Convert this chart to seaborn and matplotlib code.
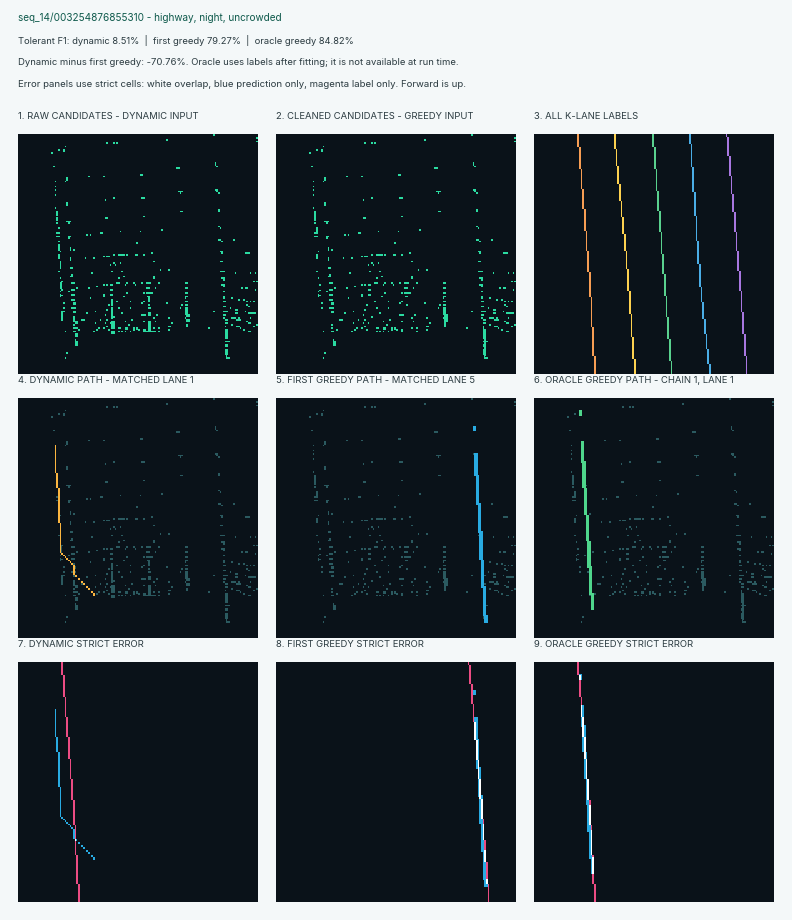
import numpy as np
import matplotlib
matplotlib.use('Agg')
import matplotlib.pyplot as plt
from matplotlib.colors import ListedColormap
import seaborn as sns

# Text
header_lines = [
    "seq_14/003254876855310 - highway, night, uncrowded",
    "Tolerant F1: dynamic 8.51%  |  first greedy 79.27%  |  oracle greedy 84.82%",
    "Dynamic minus first greedy: -70.76%. Oracle uses labels after fitting; it is not available at run time.",
    "Error panels use strict cells: white overlap, blue prediction only, magenta label only. Forward is up.",
]
header_sizes = [7.18, 6.75, 6.82, 6.93]
panel_titles = [
    "1. RAW CANDIDATES - DYNAMIC INPUT", "2. CLEANED CANDIDATES - GREEDY INPUT", "3. ALL K-LANE LABELS",
    "4. DYNAMIC PATH - MATCHED LANE 1", "5. FIRST GREEDY PATH - MATCHED LANE 5", "6. ORACLE GREEDY PATH - CHAIN 1, LANE 1",
    "7. DYNAMIC STRICT ERROR", "8. FIRST GREEDY STRICT ERROR", "9. ORACLE GREEDY STRICT ERROR",
]

# BEV grid cells: (col, row, width, height)
raw_cells = [
    (195,0,2,2),(238,3,2,2),(238,7,2,1),(148,5,2,2),(88,8,2,2),(95,8,2,2),(98,8,2,2),(47,12,1,1),(40,15,2,2),(45,15,2,3),
    (33,18,2,2),(35,32,2,1),(197,28,1,4),(198,32,2,1),(158,33,4,2),(122,40,3,2),(70,42,2,1),(85,42,2,1),(48,43,2,4),(47,47,1,1),
    (37,47,1,1),(37,52,1,1),(37,55,1,2),(37,60,1,2),(197,55,3,2),(198,57,2,1),(200,58,2,2),(160,57,5,1),(162,58,1,2),
    (95,63,2,2),(123,63,4,2),(87,65,1,2),(48,68,2,4),(37,73,1,2),(200,75,2,3),(38,77,2,5),(162,77,3,1),(125,82,2,1),
    (38,83,2,4),(87,83,3,2),(48,87,5,1),(50,88,2,2),(38,88,2,2),(200,92,2,1),(202,93,1,2),(40,93,2,2),(143,95,2,2),
    (102,97,1,1),(122,97,1,1),(38,98,4,2),(82,98,3,2),(68,100,2,2),(72,100,1,2),(38,102,4,1),(50,102,3,1),(50,103,2,2),
    (200,105,3,2),(203,107,2,1),(215,105,2,2),(40,107,2,1),(118,108,2,2),(40,110,2,7),(52,113,1,4),(55,115,2,2),
    (42,117,1,1),(202,117,3,1),(203,118,2,2),(227,118,5,2),(133,118,2,2),(40,120,2,5),(95,120,2,2),(100,120,7,2),
    (108,120,2,2),(117,120,3,2),(125,120,2,2),(85,122,2,1),(88,122,4,1),(52,123,1,4),(67,123,1,2),(75,123,2,2),
    (42,127,1,8),(135,127,2,1),(202,127,3,1),(95,128,2,2),(102,128,1,2),(92,130,1,2),(97,130,1,2),(52,133,3,2),
    (142,135,1,2),(150,135,2,2),(40,137,2,1),(93,137,2,1),(103,137,2,1),(202,137,5,1),(73,138,2,2),(217,138,1,2),
    (232,138,1,2),(237,138,1,2),(53,140,2,3),(52,142,1,1),(105,142,2,1),(135,142,2,3),(42,143,1,2),(100,143,2,2),
    (203,143,4,2),(205,145,2,2),(235,147,2,1),(238,147,2,1),(42,148,2,7),(43,147,2,1),(43,155,2,2),(42,160,1,3),
    (43,161,2,1),(42,157,1,1),(53,148,4,2),(98,148,4,2),(108,148,2,2),(115,148,2,2),(123,148,2,2),(128,148,5,2),
    (140,148,2,2),(167,148,3,2),(85,150,2,2),(88,150,2,2),(92,150,3,2),(107,150,1,2),(117,150,1,2),(203,150,4,2),
    (205,152,2,1),(78,152,2,1),(58,153,2,2),(70,153,2,2),(128,153,4,2),(137,153,1,2),(167,153,3,2),(223,153,2,2),
    (227,153,3,2),(53,155,4,2),(92,155,3,2),(237,155,1,2),(50,157,2,1),(205,157,2,1),(108,158,2,2),(125,158,2,2),
    (128,158,7,2),(167,158,3,2),(53,160,4,2),(85,160,2,3),(92,160,3,2),(105,162,2,1),(129,162,3,1),(130,163,2,5),
    (167,162,3,1),(167,163,1,2),(205,162,2,3),(213,163,2,2),(72,163,1,2),(53,165,4,2),(93,165,2,7),(220,165,2,2),
    (225,165,2,2),(98,167,2,1),(112,167,1,1),(125,167,2,1),(167,167,3,1),(205,167,3,1),(228,167,2,1),(232,167,1,1),
    (235,167,2,1),(45,168,2,2),(55,168,3,3),(123,168,2,2),(148,168,2,2),(90,170,2,2),(130,170,2,2),(163,170,2,2),
    (167,170,3,2),(228,170,2,2),(230,172,2,1),(205,172,3,1),(53,173,5,2),(45,173,2,2),(100,173,2,2),(112,173,1,2),
    (130,173,3,2),(162,173,1,2),(212,173,1,2),(167,173,3,8),(93,173,2,12),(88,175,2,2),(217,175,3,2),(43,177,4,1),
    (43,178,2,9),(55,177,3,2),(77,177,1,1),(103,178,2,2),(130,178,3,4),(68,178,2,2),(195,177,2,1),(205,177,5,1),
    (217,178,3,2),(227,177,1,1),(230,178,8,2),(123,180,5,2),(138,180,2,2),(87,180,1,2),(168,180,4,3),(205,180,3,2),
    (55,182,2,6),(95,182,2,2),(135,183,2,2),(150,183,2,2),(167,183,1,2),(205,183,2,2),(213,183,5,2),(220,183,2,2),
    (232,183,1,2),(63,185,4,2),(82,185,1,2),(88,185,2,2),(113,185,2,2),(168,185,4,3),(207,185,3,2),(218,185,5,2),
    (107,187,1,1),(125,187,2,1),(137,187,1,1),(228,187,2,1),(93,187,4,8),(57,187,3,3),(77,188,1,2),(87,188,1,2),
    (92,188,1,2),(153,188,2,2),(207,188,3,2),(230,188,3,2),(130,187,3,10),(168,190,2,3),(55,190,2,2),(110,190,2,2),
    (213,190,2,2),(238,190,2,2),(88,192,2,1),(150,192,3,1),(218,192,4,1),(235,192,2,1),(207,192,1,1),(55,193,5,2),
    (80,193,2,2),(85,193,2,2),(100,193,3,2),(107,193,3,3),(115,193,2,4),(118,193,2,3),(135,193,2,2),(140,193,2,2),
    (190,193,2,2),(222,193,1,2),(60,195,2,2),(78,195,2,2),(90,195,2,2),(125,195,3,3),(150,195,2,2),(120,195,2,2),
    (207,195,3,10),(225,195,2,2),(47,197,1,1),(55,197,3,1),(75,197,2,1),(100,197,2,1),(103,197,2,1),(107,197,1,1),
    (112,197,1,1),(128,197,10,1),(140,197,2,1),(230,197,3,1),(93,197,4,3),(57,199,3,4),(57,205,1,2),(57,207,3,5),
    (207,207,5,1),(207,210,3,3),(207,215,3,6),(208,221,1,2),(208,223,4,2),(48,218,2,2),(47,223,1,2),
]
# what the cleaning step removed and what it kept as merged runs
cleaned_removed = [
    (40,107,2,1),(40,110,2,7),(42,127,1,8),(42,147,4,9),(43,177,4,10),(55,182,2,6),(57,187,3,3),(57,193,3,2),(57,199,3,4),
    (93,165,2,7),(93,173,2,12),(93,187,4,13),(130,163,2,5),(130,173,3,2),(130,178,3,4),(130,187,3,10),(128,197,10,1),
    (127,195,1,3),
]
cleaned_added = [
    (38,82,2,1),(40,95,2,3),(43,150,2,2),(167,173,3,8),(168,180,4,8),(168,188,2,5),(207,192,1,8),(208,195,2,27),(210,207,2,1),
]

# label lanes: (col, row_start, row_end, width)
lane_1 = [(43,0,13,2),(45,13,35,2),(47,35,55,1),(48,55,75,2),(50,75,97,2),(52,97,117,1),(53,117,138,2),(55,138,163,2),
          (57,163,193,1),(58,193,222,2),(60,222,240,2)]
lane_2 = [(80,0,15,2),(82,15,32,1),(83,32,50,2),(85,50,67,2),(87,67,83,1),(88,83,100,2),(90,100,117,2),(92,117,135,1),
          (93,135,157,2),(95,157,180,2),(97,180,203,1),(98,203,225,2),(100,225,240,2)]
lane_3 = [(118,0,13,2),(120,13,35,2),(122,35,57,1),(123,57,77,2),(125,77,98,2),(127,98,120,1),(128,120,140,2),
          (130,140,162,2),(132,162,183,1),(133,183,205,2),(135,205,227,2),(137,227,240,1)]
lane_4 = [(155,0,10,2),(157,10,33,1),(158,33,58,2),(160,58,82,2),(162,82,107,1),(163,107,130,2),(165,130,153,2),
          (167,153,168,1),(168,168,185,2),(170,185,200,2),(172,200,215,1),(173,215,230,2),(175,230,240,2)]
lane_5 = [(192,0,3,1),(193,3,22,2),(195,22,42,2),(197,42,60,1),(198,60,78,2),(200,78,98,2),(202,98,117,1),(203,117,137,2),
          (205,137,157,2),(207,157,178,1),(208,178,200,2),(210,200,222,2),(212,222,240,1)]

# predicted paths: (col, row, width, height)
dynamic_path = [(37,47,1,28),(38,75,2,15),(40,90,2,35),(42,125,1,30),(43,155,2,2),(45,157,2,1),(47,158,1,2),(48,160,2,2),
                (50,162,2,1),(52,163,1,2),(53,165,2,2),(55,167,2,10),(57,177,2,2),(60,180,2,2),(63,183,2,2),(65,185,2,2),
                (68,188,2,2),(70,190,2,2),(73,193,2,2),(75,195,2,3)]
greedy_path = [(197,28,3,5),(198,55,4,23),(200,77,3,30),(202,105,3,30),(203,133,4,29),(205,162,3,28),(207,188,3,30),(208,217,4,8)]
oracle_path = [(45,12,3,6),(47,43,3,22),(48,63,4,27),(50,90,3,27),(52,117,3,26),(53,143,4,27),(55,168,3,29),(57,195,3,17)]

page_color = '#f4f8f9'
panel_color = '#0a1219'
cand_color = '#2bdba1'
dim_color = '#2b5a60'
lane_colors = ['#f79d53', '#fdd14f', '#59d18e', '#4aade6', '#a877e0']
path_colors = ['#fbb540', '#29abe2', '#4fd68c']
err_label = '#ec4c83'
err_pred = '#29abe2'
err_both = '#ffffff'
ink = '#2b3b41'
ink_title = '#0f5a4c'

N = 240


def paint(grid, rects, code):
    for c, r, w, h in rects:
        grid[r:r + h, c:c + w] = code


def lane_rects(lane):
    return [(c, r0, w, r1 - r0) for c, r0, r1, w in lane]


def draw(ax, grid, colors):
    sns.heatmap(grid, ax=ax, cmap=ListedColormap(colors), vmin=-0.5, vmax=len(colors) - 0.5,
                cbar=False, xticklabels=False, yticklabels=False, linewidths=0, rasterized=True)
    ax.set_xlim(0, N)
    ax.set_ylim(N, 0)


def error_grid(label, path):
    lab = np.zeros((N, N), dtype=bool)
    pred = np.zeros((N, N), dtype=bool)
    paint(lab, lane_rects(label), True)
    paint(pred, path, True)
    return lab.astype(int) + 2 * pred.astype(int)


raw = np.zeros((N, N), dtype=int)
paint(raw, raw_cells, 1)
cleaned = raw.copy()
paint(cleaned, cleaned_removed, 0)
paint(cleaned, cleaned_added, 1)

sns.set_theme(style='white')
plt.rcParams['font.family'] = ['Inter', 'DejaVu Sans']

W, H = 792, 920
# tiny margin so the canvas does not round down to 919 px
fig = plt.figure(figsize=((W + 0.1) / 100, (H + 0.1) / 100), dpi=100, facecolor=page_color)

for i, line in enumerate(header_lines):
    fig.text(18 / W, 1 - (18 + 22 * i) / H, line, fontsize=header_sizes[i], color=ink_title if i == 0 else ink,
             ha='left', va='center')

panel_x = [18, 276, 534]
panel_y = [134, 398, 662]
axes = []
for py in panel_y:
    for px in panel_x:
        ax = fig.add_axes([px / W, 1 - (py + 240) / H, 240 / W, 240 / H])
        ax.set_axis_off()
        axes.append(ax)
        fig.text(px / W, 1 - (py - 18) / H, panel_titles[len(axes) - 1], fontsize=6.8, color=ink,
                 ha='left', va='center')

draw(axes[0], raw, [panel_color, cand_color])
draw(axes[1], cleaned, [panel_color, cand_color])

labels = np.zeros((N, N), dtype=int)
for k, lane in enumerate([lane_1, lane_2, lane_3, lane_4, lane_5]):
    paint(labels, lane_rects(lane), k + 1)
draw(axes[2], labels, [panel_color] + lane_colors)

for ax, base, path, col in zip(axes[3:6], [raw, cleaned, cleaned],
                               [dynamic_path, greedy_path, oracle_path], path_colors):
    g = base.copy()
    paint(g, path, 2)
    draw(ax, g, [panel_color, dim_color, col])

err_colors = [panel_color, err_label, err_pred, err_both]
draw(axes[6], error_grid(lane_1, dynamic_path), err_colors)
draw(axes[7], error_grid(lane_5, greedy_path), err_colors)
draw(axes[8], error_grid(lane_1, oracle_path), err_colors)

fig.savefig('out.png', dpi=100, facecolor=page_color)
